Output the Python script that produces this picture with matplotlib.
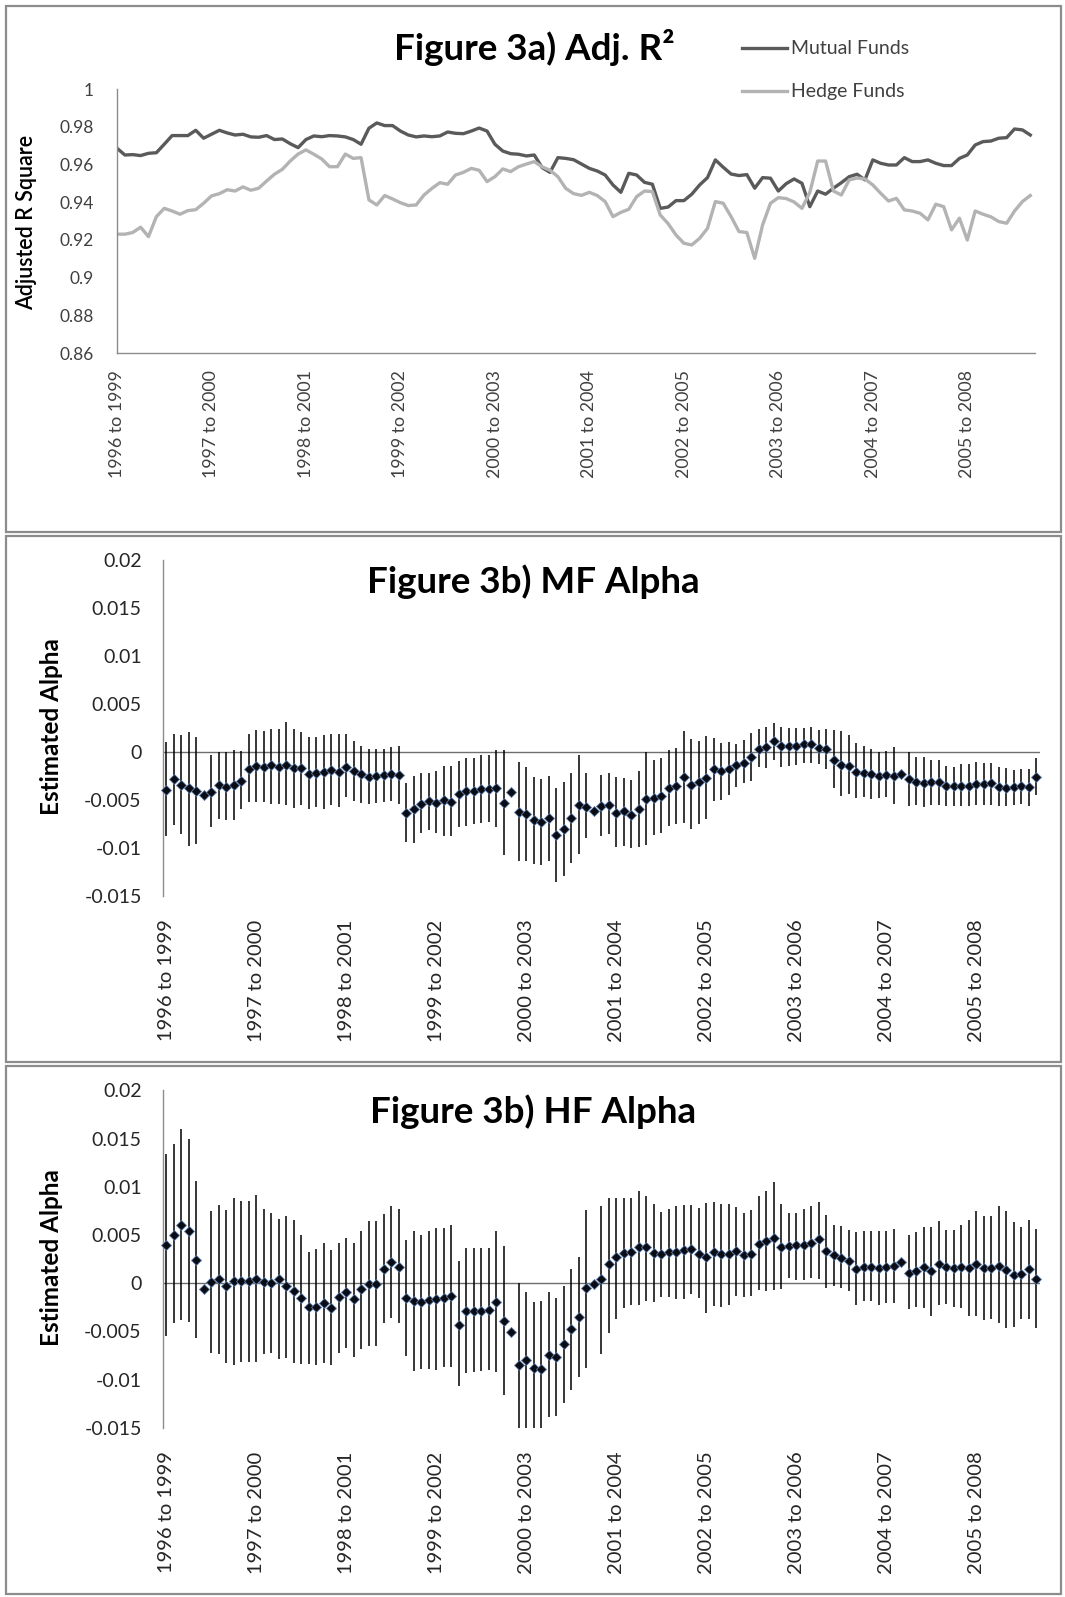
import numpy as np
import matplotlib
matplotlib.use("Agg")
import matplotlib.pyplot as plt
from matplotlib.lines import Line2D
from matplotlib.patches import Rectangle

plt.rcParams['font.family'] = ['Lato', 'DejaVu Sans']

# ---------------- data ----------------
year_labels = ["1996 to 1999", "1997 to 2000", "1998 to 2001", "1999 to 2002", "2000 to 2003",
               "2001 to 2004", "2002 to 2005", "2003 to 2006", "2004 to 2007", "2005 to 2008"]

mf_r2 = [0.9686, 0.9650, 0.9652, 0.9647, 0.9659, 0.9662, 0.9707, 0.9753, 0.9753, 0.9753,
         0.9781, 0.9739, 0.9760, 0.9781, 0.9767, 0.9756, 0.9760, 0.9746, 0.9744, 0.9753,
         0.9732, 0.9735, 0.9710, 0.9689, 0.9732, 0.9751, 0.9747, 0.9753, 0.9751, 0.9746,
         0.9732, 0.9707, 0.9792, 0.9820, 0.9806, 0.9806, 0.9777, 0.9756, 0.9746, 0.9751,
         0.9747, 0.9751, 0.9772, 0.9765, 0.9763, 0.9777, 0.9793, 0.9777, 0.9707, 0.9671,
         0.9657, 0.9654, 0.9645, 0.9650, 0.9583, 0.9558, 0.9636, 0.9632, 0.9625, 0.9602,
         0.9579, 0.9565, 0.9544, 0.9491, 0.9452, 0.9553, 0.9544, 0.9505, 0.9495, 0.9367,
         0.9374, 0.9408, 0.9408, 0.9442, 0.9491, 0.9530, 0.9624, 0.9585, 0.9549, 0.9541,
         0.9546, 0.9474, 0.9530, 0.9527, 0.9459, 0.9498, 0.9523, 0.9500, 0.9376, 0.9459,
         0.9442, 0.9474, 0.9503, 0.9535, 0.9548, 0.9518, 0.9624, 0.9606, 0.9597, 0.9597,
         0.9636, 0.9615, 0.9615, 0.9624, 0.9606, 0.9594, 0.9594, 0.9632, 0.9650, 0.9703,
         0.9721, 0.9724, 0.9739, 0.9742, 0.9788, 0.9783, 0.9756]

hf_r2 = [0.9230, 0.9230, 0.9239, 0.9267, 0.9217, 0.9323, 0.9367, 0.9353, 0.9336, 0.9355,
         0.9360, 0.9394, 0.9433, 0.9445, 0.9466, 0.9459, 0.9481, 0.9463, 0.9474, 0.9512,
         0.9548, 0.9574, 0.9618, 0.9655, 0.9677, 0.9654, 0.9629, 0.9588, 0.9588, 0.9655,
         0.9632, 0.9636, 0.9412, 0.9385, 0.9435, 0.9417, 0.9397, 0.9382, 0.9385, 0.9438,
         0.9473, 0.9503, 0.9495, 0.9544, 0.9558, 0.9579, 0.9569, 0.9509, 0.9535, 0.9576,
         0.9562, 0.9588, 0.9602, 0.9615, 0.9587, 0.9569, 0.9535, 0.9473, 0.9445, 0.9436,
         0.9452, 0.9435, 0.9403, 0.9323, 0.9346, 0.9362, 0.9429, 0.9459, 0.9456, 0.9332,
         0.9286, 0.9226, 0.9182, 0.9173, 0.9208, 0.9261, 0.9403, 0.9394, 0.9323, 0.9244,
         0.9239, 0.9102, 0.9279, 0.9394, 0.9424, 0.9419, 0.9401, 0.9367, 0.9452, 0.9618,
         0.9618, 0.9459, 0.9438, 0.9518, 0.9528, 0.9523, 0.9491, 0.9447, 0.9406, 0.9420,
         0.9359, 0.9353, 0.9341, 0.9306, 0.9389, 0.9376, 0.9253, 0.9315, 0.9199, 0.9353,
         0.9336, 0.9322, 0.9297, 0.9288, 0.9353, 0.9403, 0.9435]

mf_alpha = [-0.00395, -0.00277, -0.00341, -0.00377, -0.00406, -0.00449, -0.00420, -0.00349, -0.00363, -0.00349,
            -0.00298, -0.00176, -0.00144, -0.00154, -0.00133, -0.00154, -0.00133, -0.00172, -0.00172, -0.00234,
            -0.00219, -0.00208, -0.00190, -0.00205, -0.00154, -0.00198, -0.00234, -0.00262, -0.00255, -0.00241,
            -0.00234, -0.00244, -0.00632, -0.00597, -0.00542, -0.00510, -0.00528, -0.00500, -0.00517, -0.00441,
            -0.00406, -0.00403, -0.00389, -0.00389, -0.00378, -0.00535, -0.00423, -0.00628, -0.00646, -0.00715,
            -0.00736, -0.00691, -0.00865, -0.00806, -0.00691, -0.00555, -0.00576, -0.00615, -0.00569, -0.00555,
            -0.00632, -0.00615, -0.00653, -0.00594, -0.00486, -0.00476, -0.00455, -0.00378, -0.00360, -0.00260,
            -0.00343, -0.00312, -0.00267, -0.00183, -0.00197, -0.00182, -0.00139, -0.00114, -0.00057, 0.00032,
            0.00050, 0.00118, 0.00057, 0.00057, 0.00057, 0.00082, 0.00082, 0.00046, 0.00029, -0.00079,
            -0.00132, -0.00147, -0.00211, -0.00218, -0.00229, -0.00247, -0.00236, -0.00247, -0.00229, -0.00282,
            -0.00318, -0.00322, -0.00318, -0.00311, -0.00354, -0.00354, -0.00354, -0.00354, -0.00336, -0.00336,
            -0.00329, -0.00361, -0.00372, -0.00368, -0.00357, -0.00368, -0.00264]

nan = float('nan')
mf_hi = [0.00101, 0.00190, 0.00176, 0.00208, 0.00151, nan, -0.00036, 0.00000, 0.00000, 0.00018,
         0.00011, 0.00187, 0.00234, 0.00223, 0.00244, 0.00244, 0.00313, 0.00244, 0.00205, 0.00151,
         0.00151, 0.00172, 0.00187, 0.00187, 0.00187, 0.00115, 0.00061, 0.00032, 0.00032, 0.00036,
         0.00047, 0.00061, -0.00326, -0.00246, -0.00222, -0.00215, -0.00197, -0.00142, -0.00142, -0.00093,
         -0.00058, -0.00058, -0.00034, -0.00034, 0.00022, 0.00022, nan, -0.00107, -0.00152, -0.00257,
         -0.00281, -0.00246, -0.00371, -0.00316, -0.00222, -0.00034, -0.00222, nan, -0.00243, -0.00222,
         -0.00257, -0.00267, -0.00291, -0.00197, 0.00001, -0.00082, -0.00058, 0.00022, 0.00039, 0.00223,
         0.00133, 0.00119, 0.00168, 0.00144, 0.00093, 0.00100, 0.00086, 0.00122, 0.00193, 0.00243,
         0.00261, 0.00307, 0.00261, 0.00254, 0.00254, 0.00254, 0.00261, 0.00229, 0.00236, 0.00229,
         0.00214, 0.00175, 0.00093, 0.00057, 0.00029, 0.00004, 0.00014, 0.00050, nan, 0.00004,
         -0.00057, -0.00057, -0.00086, -0.00086, -0.00150, -0.00157, -0.00122, -0.00122, -0.00104, -0.00114,
         -0.00114, -0.00157, -0.00164, -0.00193, -0.00182, -0.00182, -0.00061]

mf_lo = [-0.00880, -0.00762, -0.00852, -0.00977, -0.00959, nan, -0.00780, -0.00701, -0.00711, -0.00711,
         -0.00600, -0.00521, -0.00521, -0.00521, -0.00539, -0.00539, -0.00557, -0.00586, -0.00557, -0.00600,
         -0.00575, -0.00593, -0.00557, -0.00575, -0.00467, -0.00514, -0.00532, -0.00539, -0.00528, -0.00521,
         -0.00510, -0.00546, -0.00935, -0.00945, -0.00841, -0.00813, -0.00848, -0.00875, -0.00882, -0.00778,
         -0.00771, -0.00750, -0.00743, -0.00736, -0.00788, -0.01074, nan, -0.01143, -0.01133, -0.01168,
         -0.01178, -0.01133, -0.01352, -0.01293, -0.01154, -0.01063, -0.00900, nan, -0.00875, -0.00861,
         -0.00987, -0.00980, -0.01001, -0.00987, -0.00969, -0.00865, -0.00848, -0.00771, -0.00750, -0.00743,
         -0.00806, -0.00750, -0.00698, -0.00507, -0.00497, -0.00454, -0.00365, -0.00329, -0.00300, -0.00157,
         -0.00164, -0.00079, -0.00157, -0.00150, -0.00139, -0.00111, -0.00111, -0.00122, -0.00182, -0.00379,
         -0.00461, -0.00443, -0.00479, -0.00472, -0.00486, -0.00479, -0.00472, -0.00540, nan, -0.00568,
         -0.00558, -0.00579, -0.00558, -0.00550, -0.00561, -0.00561, -0.00568, -0.00568, -0.00550, -0.00558,
         -0.00550, -0.00561, -0.00568, -0.00550, -0.00540, -0.00561, -0.00454]

hf_alpha = [0.00396, 0.00504, 0.00600, 0.00546, 0.00236, -0.00061, 0.00011, 0.00039, -0.00032, 0.00021,
            0.00021, 0.00021, 0.00046, 0.00011, 0.00000, 0.00039, -0.00032, -0.00079, -0.00150, -0.00246,
            -0.00246, -0.00204, -0.00257, -0.00143, -0.00089, -0.00161, -0.00061, -0.00007, -0.00007, 0.00143,
            0.00218, 0.00171, -0.00150, -0.00186, -0.00193, -0.00179, -0.00168, -0.00150, -0.00136, -0.00429,
            -0.00293, -0.00293, -0.00293, -0.00275, -0.00196, -0.00389, -0.00504, -0.00850, -0.00800, -0.00885,
            -0.00888, -0.00750, -0.00769, -0.00629, -0.00474, -0.00353, -0.00052, -0.00007, 0.00038, 0.00194,
            0.00270, 0.00311, 0.00328, 0.00380, 0.00380, 0.00315, 0.00304, 0.00322, 0.00322, 0.00339,
            0.00356, 0.00304, 0.00270, 0.00322, 0.00305, 0.00302, 0.00337, 0.00288, 0.00302, 0.00401,
            0.00437, 0.00472, 0.00373, 0.00384, 0.00394, 0.00394, 0.00412, 0.00455, 0.00330, 0.00295,
            0.00259, 0.00231, 0.00142, 0.00170, 0.00170, 0.00153, 0.00170, 0.00178, 0.00224, 0.00107,
            0.00128, 0.00170, 0.00128, 0.00195, 0.00170, 0.00153, 0.00170, 0.00160, 0.00195, 0.00153,
            0.00160, 0.00181, 0.00135, 0.00089, 0.00099, 0.00142, 0.00039]

hf_hi = [0.01343, 0.01446, 0.01600, 0.01493, 0.01057, nan, 0.00750, 0.00814, 0.00761, 0.00886,
         0.00857, 0.00850, 0.00911, 0.00771, 0.00725, 0.00664, 0.00700, 0.00654, 0.00500, 0.00325,
         0.00350, 0.00414, 0.00339, 0.00421, 0.00468, 0.00421, 0.00539, 0.00646, 0.00646, 0.00714,
         0.00796, 0.00771, 0.00446, 0.00539, 0.00504, 0.00539, 0.00571, 0.00571, 0.00607, 0.00225,
         0.00361, 0.00368, 0.00368, 0.00361, 0.00539, 0.00386, nan, 0.00000, -0.00095, -0.00196,
         -0.00180, -0.00095, -0.00156, -0.00030, 0.00145, 0.00273, 0.00760, nan, 0.00803, 0.00881,
         0.00888, 0.00881, 0.00881, 0.00952, 0.00906, 0.00817, 0.00739, 0.00774, 0.00803, 0.00810,
         0.00810, 0.00781, 0.00827, 0.00845, 0.00817, 0.00817, 0.00792, 0.00731, 0.00756, 0.00906,
         0.00959, 0.01048, 0.00817, 0.00731, 0.00731, 0.00774, 0.00803, 0.00845, 0.00703, 0.00607,
         0.00589, 0.00554, 0.00526, 0.00536, 0.00536, 0.00543, 0.00543, 0.00565, nan, 0.00497,
         0.00526, 0.00579, 0.00579, 0.00643, 0.00554, 0.00550, 0.00604, 0.00660, 0.00746, 0.00696,
         0.00696, 0.00799, 0.00749, 0.00639, 0.00579, 0.00660, 0.00565]

hf_lo = [-0.00543, -0.00418, -0.00382, -0.00400, -0.00571, nan, -0.00728, -0.00739, -0.00828, -0.00846,
         -0.00821, -0.00818, -0.00818, -0.00739, -0.00728, -0.00786, -0.00775, -0.00828, -0.00836, -0.00836,
         -0.00853, -0.00828, -0.00846, -0.00728, -0.00668, -0.00764, -0.00686, -0.00650, -0.00650, -0.00418,
         -0.00357, -0.00418, -0.00757, -0.00911, -0.00893, -0.00889, -0.00900, -0.00871, -0.00871, -0.01071,
         -0.00936, -0.00925, -0.00911, -0.00900, -0.00925, -0.01161, nan, -0.01550, -0.01550, -0.01550,
         -0.01520, -0.01390, -0.01380, -0.01240, -0.01110, -0.00970, -0.00884, nan, -0.00735, -0.00522,
         -0.00369, -0.00256, -0.00231, -0.00227, -0.00185, -0.00195, -0.00142, -0.00142, -0.00160, -0.00167,
         -0.00114, -0.00149, -0.00309, -0.00238, -0.00249, -0.00227, -0.00131, -0.00142, -0.00138, -0.00071,
         -0.00085, -0.00071, -0.00060, 0.00057, 0.00036, 0.00028, 0.00057, 0.00039, -0.00050, -0.00025,
         -0.00050, -0.00085, -0.00227, -0.00185, -0.00185, -0.00227, -0.00202, -0.00210, nan, -0.00273,
         -0.00249, -0.00256, -0.00337, -0.00227, -0.00220, -0.00249, -0.00256, -0.00344, -0.00344, -0.00380,
         -0.00369, -0.00415, -0.00469, -0.00451, -0.00369, -0.00369, -0.00469]

# ---------------- figure ----------------
W, H = 1065, 1597
fig = plt.figure(figsize=(W / 100, H / 100), dpi=100)
fig.patch.set_facecolor('white')


def fx(px):
    return px / W


def fy(py):
    return 1 - py / H


# panel borders
for (top, bot) in [(6, 532), (536, 1062), (1066, 1594)]:
    fig.add_artist(Rectangle((fx(6), fy(bot)), fx(1061) - fx(6), fy(top) - fy(bot),
                             transform=fig.transFigure, fill=False,
                             edgecolor='#8c8c8c', linewidth=1.6))

n = len(mf_r2)
x = np.arange(n)
tick_pos = np.arange(0, n, 12)[:len(year_labels)]

# ---------------- Panel 1 ----------------
ax1 = fig.add_axes([fx(117), fy(353), fx(1035) - fx(117), fy(89) - fy(353)])
ax1.plot(x, mf_r2, color='#5a5a5a', lw=2.4, solid_joinstyle='round')
ax1.plot(x, hf_r2, color='#b3b3b3', lw=2.4, solid_joinstyle='round')
ax1.set_xlim(0, n - 0.4)
ax1.set_ylim(0.86, 1.0)
ax1.set_yticks([0.86, 0.88, 0.90, 0.92, 0.94, 0.96, 0.98, 1.0])
ax1.set_yticklabels(['0.86', '0.88', '0.9', '0.92', '0.94', '0.96', '0.98', '1'])
ax1.set_xticks(tick_pos)
ax1.set_xticklabels(year_labels, rotation=90, va='top', ha='center')
ax1.tick_params(axis='both', length=0, colors='#404040')
ax1.tick_params(axis='x', pad=12, labelsize=12.8)
ax1.tick_params(axis='y', pad=17, labelsize=12.5)
for s in ['top', 'right']:
    ax1.spines[s].set_visible(False)
for s in ['left', 'bottom']:
    ax1.spines[s].set_color('#8c8c8c')
    ax1.spines[s].set_linewidth(1.0)
fig.text(fx(534), fy(48), 'Figure 3a) Adj. R²', ha='center', va='center',
         fontsize=26.5, fontweight='bold', color='#000000')
fig.text(fx(27), fy(222), 'Adjusted R Square', rotation=90, ha='center', va='center',
         fontsize=15.5, fontweight='semibold', color='#000000')
# legend
for yy, col, lab in [(48, '#5a5a5a', 'Mutual Funds'), (91, '#b3b3b3', 'Hedge Funds')]:
    fig.add_artist(Line2D([fx(742), fx(787)], [fy(yy), fy(yy)], transform=fig.transFigure,
                          color=col, lw=2.4))
    fig.text(fx(791), fy(yy), lab, ha='left', va='center', fontsize=14, color='#404040')


# ---------------- alpha panels ----------------
def alpha_panel(top_px, bot_px, vals, lo, hi, title, title_y):
    ax = fig.add_axes([fx(162.5), fy(bot_px), fx(1040) - fx(162.5), fy(top_px) - fy(bot_px)])
    vals = np.array(vals)
    lo = np.array(lo)
    hi = np.array(hi)
    ok = ~np.isnan(lo)
    ax.vlines(x[ok], lo[ok], hi[ok], color='#000000', lw=1.1, zorder=2)
    ax.plot(x, vals, ls='none', marker='D', ms=5.2, mfc='#0b0b14', mec='#5a7ca8',
            mew=0.6, zorder=3, clip_on=False)
    ax.axhline(0, color='#6e6e6e', lw=1.0, zorder=1)
    ax.set_xlim(-0.5, n - 0.5)
    ax.set_ylim(-0.015, 0.02)
    yt = [-0.015, -0.01, -0.005, 0, 0.005, 0.01, 0.015, 0.02]
    ax.set_yticks(yt)
    ax.set_yticklabels(['-0.015', '-0.01', '-0.005', '0', '0.005', '0.01', '0.015', '0.02'])
    ax.set_xticks(tick_pos)
    ax.set_xticklabels(year_labels, rotation=90, va='top', ha='center')
    ax.tick_params(axis='both', length=0, colors='#262626')
    ax.tick_params(axis='y', labelsize=14, pad=15)
    ax.tick_params(axis='x', labelsize=14.5, pad=17)
    for s in ['top', 'right', 'bottom']:
        ax.spines[s].set_visible(False)
    ax.spines['left'].set_color('#8c8c8c')
    ax.spines['left'].set_linewidth(1.0)
    fig.text(fx(533), fy(title_y), title, ha='center', va='center',
             fontsize=26.5, fontweight='bold', color='#000000')
    fig.text(fx(52), fy((top_px + bot_px) / 2 - 1), 'Estimated Alpha', rotation=90,
             ha='center', va='center', fontsize=17.5, fontweight='bold', color='#000000')
    return ax


alpha_panel(560.3, 895.7, mf_alpha, mf_lo, mf_hi, 'Figure 3b) MF Alpha', 582)
alpha_panel(1090.3, 1427.8, hf_alpha, hf_lo, hf_hi, 'Figure 3b) HF Alpha', 1112)

fig.savefig('out.png', dpi=100, facecolor='white')
